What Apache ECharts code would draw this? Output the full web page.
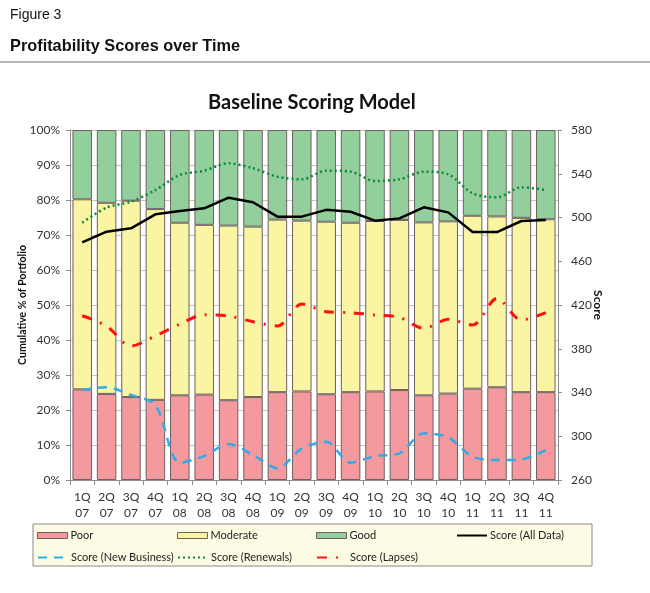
<!DOCTYPE html>
<html>
<head>
<meta charset="utf-8">
<script src="https://cdn.jsdelivr.net/npm/echarts@6/dist/echarts.min.js"></script>
<style>
html,body{margin:0;padding:0;background:#fff;}
#chart{width:650px;height:593px;}
</style>
</head>
<body>
<div id="chart"></div>
<script>
var categories = ['1Q\n07','2Q\n07','3Q\n07','4Q\n07','1Q\n08','2Q\n08','3Q\n08','4Q\n08','1Q\n09','2Q\n09','3Q\n09','4Q\n09','1Q\n10','2Q\n10','3Q\n10','4Q\n10','1Q\n11','2Q\n11','3Q\n11','4Q\n11'];
var poor     = [25.9,24.6,23.7,22.9,24.2,24.4,22.8,23.7,25.1,25.3,24.5,25.1,25.3,25.7,24.2,24.7,26.1,26.5,25.1,25.1];
var moderate = [54.3,54.6,56.1,54.5,49.3,48.5,49.9,48.7,49.3,48.8,49.3,48.4,48.7,48.6,49.4,49.2,49.4,48.8,49.8,49.4];
var good     = [19.8,20.8,20.2,22.6,26.5,27.1,27.3,27.6,25.6,25.9,26.2,26.5,26.0,25.7,26.4,26.1,24.5,24.7,25.1,25.5];
var scoreAll     = [477.3,487.0,490.1,502.9,506.0,508.4,518.1,513.9,500.8,500.8,507.0,505.3,497.1,499.2,509.3,504.7,486.7,486.7,496.8,497.7];
var scoreNewBus  = [342.3,344.8,337.7,328.6,275.8,281.9,292.9,282.9,270.7,289.0,295.0,275.8,281.9,284.4,302.7,299.0,281.3,278.3,278.9,287.4];
var scoreRenew   = [495.3,509.0,514.5,525.1,538.9,542.8,549.6,545.0,537.3,534.9,542.8,541.9,533.4,534.9,541.9,539.5,522.1,518.5,527.6,525.1];
var scoreLapses  = [410.2,400.8,382.5,391.7,402.6,411.1,409.9,404.7,400.8,420.9,413.9,413.0,410.9,408.7,398.7,406.9,401.7,426.1,406.3,413.0];
var pctTicks = {min:0, max:100, interval:10};
var scoreTicks = {min:260, max:580, interval:40};

var F = 'Lato, "Open Sans", sans-serif';
var chart = echarts.init(document.getElementById('chart'));
var barBorder = '#6e6160';
function legendAt(name, left, top, extra){
  return Object.assign({
    data:[name], left:left, top:top, orient:'horizontal',
    itemWidth:30, itemHeight:6, itemGap:0, padding:0,
    textStyle:{fontFamily:F, fontSize:11, color:'#222', padding:[0,0,0,-2]},
    selectedMode:false
  }, extra||{});
}
var lineLeg = {itemStyle:{opacity:0}};
var barLeg = {icon:'rect', itemStyle:{borderColor:barBorder, borderWidth:1}};
chart.setOption({
  animation:false,
  backgroundColor:'#fff',
  title:{text:'Baseline Scoring Model', left:203, top:88,
    textStyle:{fontFamily:F, fontSize:20, fontWeight:'bold', color:'#111'}},
  graphic:[
    {type:'text', left:10, top:8, style:{text:'Figure 3', font:'14px "Liberation Sans", sans-serif', fill:'#111'}},
    {type:'text', x:10, y:38, scaleX:0.96, style:{text:'Profitability Scores over Time', font:'bold 17px "Liberation Sans", sans-serif', fill:'#111'}},
    {type:'line', shape:{x1:0,y1:62,x2:650,y2:62}, style:{stroke:'#a59d95', lineWidth:1.5}},
    {type:'rect', shape:{x:33,y:524,width:559,height:42}, style:{fill:'#fdfbe4', stroke:'#8a8a8a', lineWidth:1}, z:-1}
  ],
  legend:[
    legendAt('Poor', 37, 530, barLeg),
    legendAt('Moderate', 177, 530, barLeg),
    legendAt('Good', 316, 530, barLeg),
    legendAt('Score (All Data)', 456, 530, lineLeg),
    legendAt('Score (New Business)', 37, 552, lineLeg),
    legendAt('Score (Renewals)', 177, 552, lineLeg),
    legendAt('Score (Lapses)', 316, 552, lineLeg)
  ],
  grid:{left:70, right:92, top:130, bottom:113},
  xAxis:{type:'category', data:categories,
    axisLine:{lineStyle:{color:'#8c8c8c'}},
    axisTick:{show:true, length:5, lineStyle:{color:'#8c8c8c'}},
    axisLabel:{fontFamily:F, fontSize:12, color:'#333', lineHeight:16, margin:9}},
  yAxis:[
    {type:'value', min:pctTicks.min, max:pctTicks.max, interval:pctTicks.interval,
     name:'Cumulative % of Portfolio', nameLocation:'middle', nameGap:42, nameRotate:90, nameMoveOverlap:false,
     nameTextStyle:{fontFamily:F, fontSize:10.5, fontWeight:'bold', color:'#111'},
     axisLine:{show:true, lineStyle:{color:'#8c8c8c'}},
     axisTick:{show:true, length:4, lineStyle:{color:'#8c8c8c'}},
     axisLabel:{formatter:'{value}%', fontFamily:F, fontSize:12, color:'#333', margin:10},
     splitLine:{show:true, lineStyle:{color:'#c4c4c4'}}},
    {type:'value', min:scoreTicks.min, max:scoreTicks.max, interval:scoreTicks.interval, position:'right',
     name:'Score', nameLocation:'middle', nameGap:34, nameRotate:-90, nameMoveOverlap:false,
     nameTextStyle:{fontFamily:F, fontSize:12, fontWeight:'bold', color:'#111'},
     axisLine:{show:true, lineStyle:{color:'#8c8c8c'}},
     axisTick:{show:true, length:4, lineStyle:{color:'#8c8c8c'}},
     axisLabel:{fontFamily:F, fontSize:12, color:'#333', margin:13},
     splitLine:{show:false}}
  ],
  series:[
    {name:'Poor', type:'bar', stack:'p', data:poor, barCategoryGap:'20%',
     itemStyle:{color:'#f4999e', borderColor:barBorder, borderWidth:1}},
    {name:'Moderate', type:'bar', stack:'p', data:moderate,
     itemStyle:{color:'#faf5a2', borderColor:barBorder, borderWidth:1}},
    {name:'Good', type:'bar', stack:'p', data:good,
     itemStyle:{color:'#92cf9c', borderColor:barBorder, borderWidth:1}},
    {name:'Score (All Data)', type:'line', yAxisIndex:1, data:scoreAll, symbol:'none',
     lineStyle:{color:'#000', width:2.5}, itemStyle:{color:'#000'}},
    {name:'Score (New Business)', type:'line', yAxisIndex:1, data:scoreNewBus, symbol:'none', smooth:0.3,
     lineStyle:{color:'#33aae6', width:2.5, type:[9,7]}, itemStyle:{color:'#33aae6'}},
    {name:'Score (Renewals)', type:'line', yAxisIndex:1, data:scoreRenew, symbol:'none', smooth:0.3,
     lineStyle:{color:'#0b8a3a', width:2.5, type:[2,3]}, itemStyle:{color:'#0b8a3a'}},
    {name:'Score (Lapses)', type:'line', yAxisIndex:1, data:scoreLapses, symbol:'none', smooth:0.3,
     lineStyle:{color:'#ff1010', width:3, type:[10,9,2,9]}, itemStyle:{color:'#ff1010'}}
  ]
});
</script>
</body>
</html>
